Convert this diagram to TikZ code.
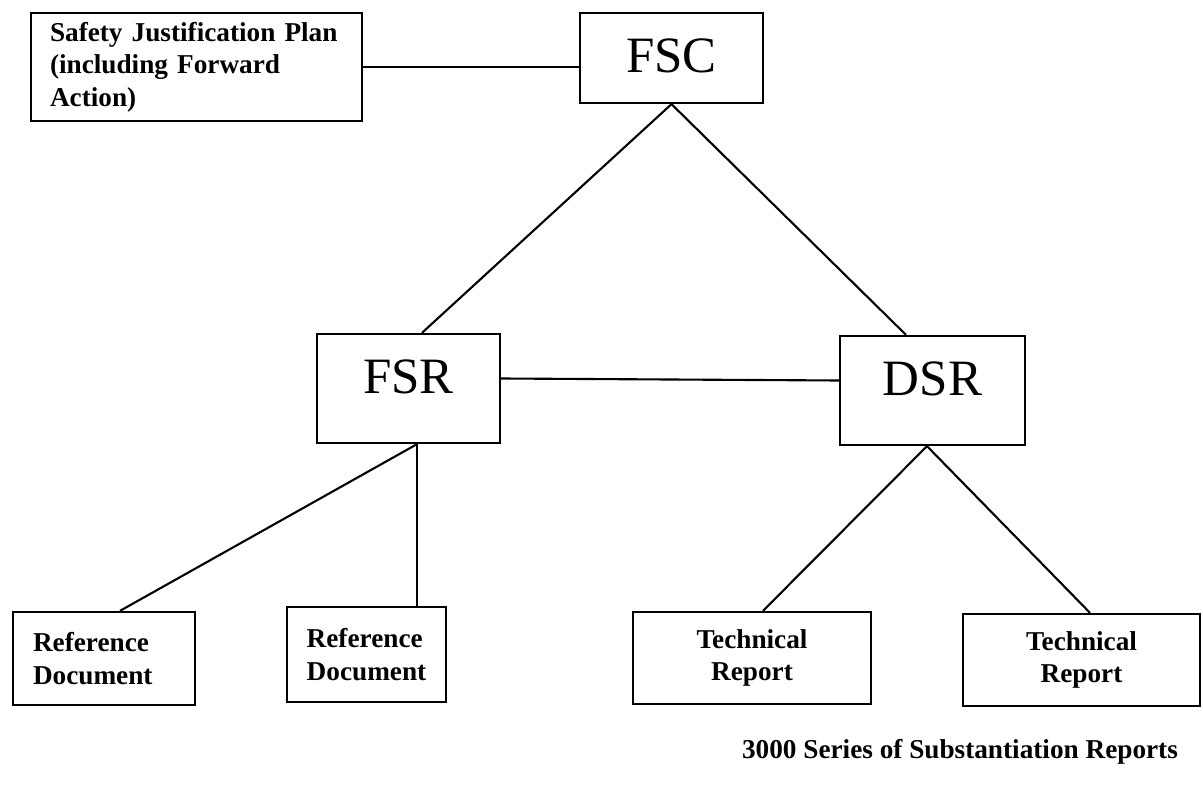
\documentclass[tikz,border=0pt]{standalone}
\usepackage{fontspec}
\setmainfont{Liberation Serif}

\tikzset{
  mainbox/.style={draw, line width=1.3pt, minimum width=3.66cm, minimum height=2.18cm,
    text depth=0.48cm, font=\fontsize{29}{34}\selectfont},
  docbox/.style={draw, line width=1.3pt, minimum height=1.86cm, align=center,
    font=\bfseries\fontsize{15.5}{18.5}\selectfont},
  link/.style={line width=1.2pt}
}

\begin{document}
\begin{tikzpicture}

   \useasboundingbox (0,0) rectangle (24.06,15.92);

   % top row
   \node[draw, line width=1.3pt, minimum height=2.16cm, text width=5.86cm, inner xsep=0.38cm,
     align=left, font=\bfseries\fontsize{15.5}{18.5}\selectfont] (sjp) at (3.93,14.58)
     {Safety Justification Plan\\(including Forward\\Action)};
   \node[mainbox, minimum height=1.8cm, text depth=0.1cm] (fsc) at (13.43,14.76) {FSC};

   % middle row
   \node[mainbox] (fsr) at (8.17,8.15) {FSR};
   \node[mainbox, minimum width=3.7cm] (dsr) at (18.65,8.11) {DSR};

   % bottom row
   \node[docbox, text width=2.84cm, inner xsep=0.4cm, align=left] (refa) at (2.08,2.75) {Reference\\Document};
   \node[docbox, minimum width=3.18cm, minimum height=1.9cm, align=left] (refb) at (7.33,2.83) {Reference\\Document};
   \node[docbox, minimum width=4.76cm, minimum height=1.84cm] (repa) at (15.04,2.76) {Technical\\Report};
   \node[docbox, minimum width=4.74cm, minimum height=1.84cm] (repb) at (21.63,2.72) {Technical\\Report};

   \node[font=\bfseries\fontsize{15.5}{18.5}\selectfont] (series) at (19.2,0.88)
     {3000 Series of Substantiation Reports};

   % links
   \draw[link] (sjp.east) -- (sjp.east -| fsc.west);
   \draw[link] (fsc.south) -- ([xshift=0.27cm]fsr.north);
   \draw[link] (fsc.south) -- ([xshift=-0.53cm]dsr.north);
   \draw[link] ([yshift=0.2cm]fsr.east) -- ([yshift=0.2cm]dsr.west);

   \draw[link] ([xshift=0.17cm]fsr.south) -- ([xshift=0.32cm]refa.north);
   \draw[link] ([xshift=0.17cm]fsr.south) -- ([xshift=1.01cm]refb.north);
   \draw[link] ([xshift=-0.11cm]dsr.south) -- ([xshift=0.22cm]repa.north);
   \draw[link] ([xshift=-0.11cm]dsr.south) -- ([xshift=0.17cm]repb.north);

\end{tikzpicture}
\end{document}
